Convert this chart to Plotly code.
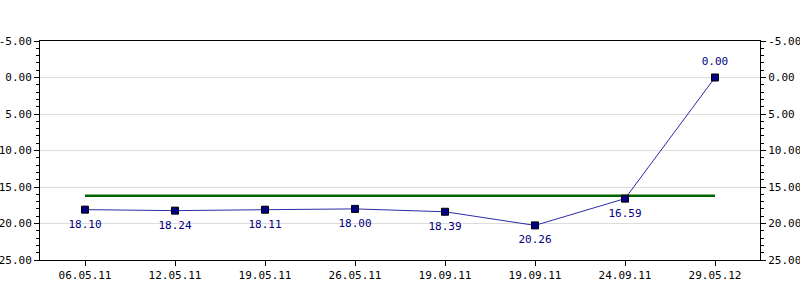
import plotly.graph_objects as go

categories = ["06.05.11", "12.05.11", "19.05.11", "26.05.11", "19.09.11", "19.09.11", "24.09.11", "29.05.12"]
values = [18.10, 18.24, 18.11, 18.00, 18.39, 20.26, 16.59, 0.00]
reference_level = 16.2
y_ticks = [-5, 0, 5, 10, 15, 20, 25]

x = list(range(len(categories)))
labels = [f"{v:.2f}" for v in values]
positions = ["top center" if v < 5 else "bottom center" for v in values]

font = dict(family="DejaVu Sans Mono, monospace", size=11, color="black")

fig = go.Figure()
fig.add_trace(go.Scatter(
    x=x, y=[reference_level] * len(x), mode="lines",
    line=dict(color="#006400", width=2.5), hoverinfo="skip", showlegend=False))
fig.add_trace(go.Scatter(
    x=x, y=values, mode="lines+markers",
    line=dict(color="#2a2aa8", width=1),
    marker=dict(symbol="square", size=7, color="#000080", line=dict(color="black", width=1)),
    showlegend=False))
# value labels (invisible larger markers push the text a bit further from the points)
fig.add_trace(go.Scatter(
    x=x, y=values, mode="markers+text",
    marker=dict(size=14, opacity=0),
    text=labels, textposition=positions,
    textfont=dict(family="DejaVu Sans Mono, monospace", size=11, color="#000080"),
    hoverinfo="skip", showlegend=False))
fig.add_trace(go.Scatter(x=[0], y=[None], yaxis="y2", showlegend=False, hoverinfo="skip"))

yaxis_common = dict(
    range=[25, -5], tickvals=y_ticks, ticktext=[f"{t:.2f}" for t in y_ticks],
    ticks="outside", ticklen=5, tickcolor="black", tickwidth=1,
    minor=dict(ticks="outside", dtick=1, ticklen=3, tickcolor="black", showgrid=False),
    showline=True, linecolor="black", linewidth=1, tickfont=font, zeroline=False,
    automargin=False,
)

fig.update_layout(
    width=800, height=300,
    margin=dict(l=40, r=40, t=41, b=40),
    paper_bgcolor="white", plot_bgcolor="white",
    xaxis=dict(
        range=[-0.5, len(categories) - 0.5], tickvals=x, ticktext=categories,
        ticks="outside", ticklen=5, tickcolor="black", showgrid=False,
        showline=True, linecolor="black", linewidth=1, mirror=True,
        tickfont=font, zeroline=False, automargin=False,
    ),
    yaxis=dict(**yaxis_common, showgrid=True, gridcolor="#dcdcdc", gridwidth=1),
    yaxis2=dict(**yaxis_common, overlaying="y", side="right", showgrid=False),
)

fig.write_html("out.html")
